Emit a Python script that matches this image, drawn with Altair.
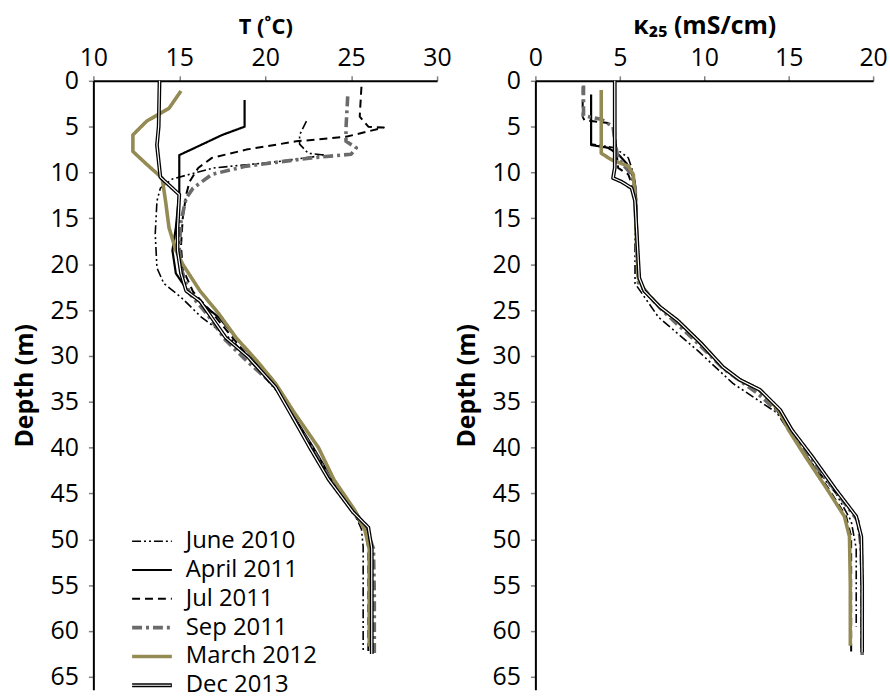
import altair as alt
import pandas as pd

SERIES = ["June 2010", "April 2011", "Jul 2011", "Sep 2011", "March 2012", "Dec 2013"]
COLORS = ["black", "black", "black", "#6b6b6b", "#948a54", "black"]
DASHES = [[9, 3, 2, 3, 2, 3], [1, 0], [8, 5], [10, 4, 3, 4], [1, 0], [1, 0]]
WIDTHS = [1.6, 2.2, 2.0, 3.6, 3.6, 3.8]

DEPTH_TICKS = list(range(0, 70, 5))
T_TICKS = [10, 15, 20, 25, 30]
K_TICKS = [0, 5, 10, 15, 20]

# ---------------- Temperature (left panel) ----------------
t_depth = {
    "June 2010": [4.4, 5.9, 6.9, 7.9, 8.1, 8.8, 9.5, 10.1, 10.7, 11.7, 13.1, 16.7, 20.4, 22.1, 23.6, 25.8, 27.2, 28.3, 30.5, 34.1, 36.2, 39.9, 43.5, 46.8, 48.9, 50.8, 56.0, 62.2],
    "April 2011": [2.1, 5.0, 5.9, 7.4, 8.1, 12.2, 16.0, 18.5, 21.0, 23.2, 25.8, 28.0, 30.5, 34.0, 37.0, 40.0, 43.5, 46.5, 48.5, 50.5, 56.0, 62.5],
    "Jul 2011": [0.65, 3.9, 5.0, 5.1, 6.1, 6.6, 7.5, 8.4, 9.5, 11.0, 12.4, 15.0, 18.0, 20.5, 23.0, 25.5, 28.0, 30.5, 34.0, 37.0, 40.0, 43.5, 47.0, 49.0, 51.0, 56.0, 62.5],
    "Sep 2011": [1.7, 5.2, 6.6, 7.3, 8.0, 8.4, 9.3, 10.2, 11.7, 12.8, 15.3, 18.2, 20.4, 23.2, 25.4, 28.3, 30.5, 33.7, 37.0, 40.0, 43.5, 47.0, 49.0, 51.0, 56.0, 62.8],
    "March 2012": [1.1, 3.0, 4.4, 5.9, 7.7, 9.1, 10.6, 13.1, 16.0, 18.5, 20.0, 22.9, 25.4, 28.0, 30.5, 33.0, 36.2, 40.0, 43.5, 46.8, 49.0, 51.0, 56.0, 61.7],
    "Dec 2013": [0.0, 5.0, 7.0, 10.5, 12.4, 16.0, 18.5, 21.0, 22.9, 24.0, 28.0, 30.1, 33.4, 37.0, 40.0, 43.5, 47.0, 48.7, 51.0, 56.0, 62.5],
}
t_value = {
    "June 2010": [22.4, 22.0, 22.0, 22.5, 23.5, 20.8, 17.0, 15.8, 14.6, 13.9, 13.7, 13.6, 13.7, 14.1, 15.1, 16.3, 17.3, 18.1, 19.1, 20.8, 21.5, 22.7, 23.8, 25.1, 25.6, 25.7, 25.7, 25.7],
    "April 2011": [18.8, 18.8, 17.5, 15.8, 15.0, 15.0, 14.8, 14.6, 14.8, 15.6, 17.3, 18.3, 19.4, 20.9, 21.8, 22.8, 23.9, 25.1, 25.8, 26.1, 26.2, 26.2],
    "Jul 2011": [25.6, 25.5, 26.0, 26.9, 24.7, 21.8, 18.9, 16.9, 16.1, 15.6, 15.4, 15.2, 15.1, 15.2, 15.8, 17.0, 18.1, 19.2, 20.8, 21.7, 22.7, 23.8, 25.1, 25.8, 26.0, 26.0, 26.0],
    "Sep 2011": [24.8, 24.7, 24.7, 25.3, 25.0, 22.7, 18.9, 16.9, 15.8, 15.4, 15.1, 15.0, 15.1, 15.6, 16.6, 17.7, 18.9, 20.8, 21.7, 22.7, 23.8, 25.1, 25.9, 26.3, 26.35, 26.35],
    "March 2012": [15.1, 14.4, 13.1, 12.3, 12.3, 13.1, 14.0, 14.2, 14.4, 14.8, 15.2, 16.2, 17.3, 18.3, 19.5, 20.6, 21.7, 23.1, 24.0, 25.2, 25.8, 26.05, 26.05, 26.05],
    "Dec 2013": [13.85, 13.8, 13.7, 13.9, 15.0, 14.9, 14.9, 15.1, 15.4, 16.2, 17.7, 19.0, 20.6, 21.7, 22.6, 23.7, 25.1, 26.0, 26.2, 26.2, 26.2],
}

# ---------------- Conductivity (right panel) ----------------
k_depth = {
    "June 2010": [1.7, 6.9, 7.3, 8.4, 9.5, 11.0, 13.1, 18.2, 22.1, 25.8, 29.4, 33.0, 36.2, 39.0, 42.0, 45.0, 48.0, 51.0, 55.0, 59.5],
    "April 2011": [1.5, 7.0, 7.3, 8.0, 9.0, 10.5, 12.0, 18.2, 21.5, 22.9, 24.7, 26.1, 28.6, 31.2, 32.6, 33.7, 35.9, 38.1, 41.0, 44.6, 47.5, 49.7, 55.0, 62.3],
    "Jul 2011": [0.65, 3.9, 4.3, 4.6, 5.2, 7.7, 9.5, 10.2, 11.7, 13.1, 18.2, 21.5, 22.9, 24.7, 26.1, 28.6, 31.2, 32.6, 33.7, 35.9, 38.1, 41.0, 44.6, 47.5, 49.7, 55.0, 62.5],
    "Sep 2011": [0.5, 3.8, 4.2, 5.0, 6.5, 8.5, 10.0, 11.5, 13.1, 18.2, 22.0, 25.0, 28.6, 31.5, 34.0, 36.5, 39.0, 42.0, 45.0, 48.0, 51.0, 56.0, 63.0],
    "March 2012": [1.0, 7.9, 8.6, 9.3, 10.2, 13.1, 18.2, 21.5, 22.9, 24.7, 26.1, 28.6, 31.2, 32.6, 33.7, 35.9, 38.1, 41.0, 44.6, 47.5, 49.7, 55.0, 61.6],
    "Dec 2013": [0.0, 9.5, 10.6, 11.0, 11.7, 13.1, 18.2, 21.5, 22.9, 24.7, 26.1, 28.6, 31.2, 32.6, 33.7, 35.9, 38.1, 41.0, 44.6, 47.5, 49.7, 55.0, 62.3],
}
k_value = {
    "June 2010": [3.3, 3.3, 4.7, 5.5, 5.7, 5.9, 5.9, 5.9, 5.9, 7.3, 9.6, 11.7, 14.3, 15.3, 16.5, 17.8, 18.7, 19.0, 19.0, 19.0],
    "April 2011": [3.3, 3.3, 4.3, 4.9, 5.4, 5.8, 5.95, 6.05, 6.15, 6.45, 7.4, 8.4, 9.8, 11.1, 12.1, 13.3, 14.5, 15.2, 16.4, 17.8, 19.0, 19.3, 19.35, 19.35],
    "Jul 2011": [2.8, 2.8, 2.9, 4.3, 4.7, 4.8, 4.9, 5.5, 5.8, 5.9, 6.0, 6.1, 6.4, 7.3, 8.3, 9.7, 11.0, 12.0, 13.2, 14.3, 15.0, 16.1, 17.4, 18.4, 18.7, 18.7, 18.7],
    "Sep 2011": [2.85, 2.85, 3.9, 4.6, 4.7, 4.9, 5.6, 5.9, 5.95, 6.0, 6.1, 7.5, 9.6, 11.2, 13.1, 14.6, 15.5, 16.6, 17.9, 19.1, 19.3, 19.35, 19.35],
    "March 2012": [3.9, 3.9, 4.5, 5.5, 5.8, 5.9, 6.0, 6.1, 6.45, 7.4, 8.4, 9.8, 11.1, 12.1, 13.3, 14.4, 15.0, 16.0, 17.3, 18.3, 18.6, 18.65, 18.65],
    "Dec 2013": [4.7, 4.7, 4.6, 5.1, 5.7, 5.9, 6.05, 6.15, 6.45, 7.4, 8.4, 9.8, 11.1, 12.1, 13.3, 14.5, 15.2, 16.4, 17.8, 19.0, 19.3, 19.35, 19.35],
}


def frame(depths, values):
    rows = []
    for s in SERIES:
        for i, (d, v) in enumerate(zip(depths[s], values[s])):
            rows.append({"series": s, "depth": d, "value": v, "i": i})
    return pd.DataFrame(rows)


FONT = "Open Sans"
H = 613
Y_MAX = 66.4
LEG_X = 37
LEG_Y = 449
ROW = 29
SYM = 1600
LEG_FONT = 24


def panel(df, xdomain, xticks, xtitle, xtitle_size, width, show_legend):
    x = alt.X(
        "value:Q",
        scale=alt.Scale(domain=xdomain, nice=False),
        axis=alt.Axis(orient="top", values=xticks, title=xtitle, labelFlush=False,
                      labelPadding=5, titlePadding=8, format="d", titleFontSize=xtitle_size),
    )
    y = alt.Y(
        "depth:Q",
        scale=alt.Scale(domain=[0, Y_MAX], reverse=True, nice=False),
        axis=alt.Axis(values=DEPTH_TICKS, title="Depth (m)", labelPadding=10,
                      titlePadding=13, format="d", titleFontSize=25),
    )
    if show_legend:
        leg = alt.Legend(orient="none", legendX=LEG_X, legendY=LEG_Y, title=None,
                         symbolType="stroke", symbolSize=SYM, labelFont=FONT,
                         labelFontSize=LEG_FONT, labelColor="black", labelOffset=12,
                         clipHeight=ROW, rowPadding=0, padding=0)
    else:
        leg = None
    base = alt.Chart(df).mark_line(strokeJoin="round").encode(
        x=x,
        y=y,
        order="i:Q",
        color=alt.Color("series:N", scale=alt.Scale(domain=SERIES, range=COLORS), legend=leg),
        strokeDash=alt.StrokeDash("series:N", scale=alt.Scale(domain=SERIES, range=DASHES), legend=leg),
        strokeWidth=alt.StrokeWidth("series:N", scale=alt.Scale(type="ordinal", domain=SERIES, range=WIDTHS), legend=leg),
    )
    if show_legend:
        leg2 = alt.Legend(orient="none", legendX=LEG_X, legendY=LEG_Y + 5 * ROW, title=None,
                          symbolType="stroke", symbolSize=SYM, labelExpr="''",
                          symbolStrokeWidth=1.2, padding=0, labelFontSize=LEG_FONT, labelOffset=12,
                          clipHeight=ROW, rowPadding=0)
    else:
        leg2 = None
    overlay = alt.Chart(df[df["series"] == "Dec 2013"]).mark_line(strokeWidth=1.2, strokeJoin="round").encode(
        x=x,
        y=y,
        order="i:Q",
        stroke=alt.Stroke("series:N", scale=alt.Scale(domain=["Dec 2013"], range=["white"]), legend=leg2),
    )
    return alt.layer(base, overlay).properties(width=width, height=H)


left = panel(frame(t_depth, t_value), [10, 30], T_TICKS, "T (˚C)", 22, 346, True)
right = panel(frame(k_depth, k_value), [0, 20], K_TICKS, "κ₂₅  (mS/cm)", 25, 340, False)

chart = (
    alt.hconcat(left, right, spacing=2)
    .resolve_scale(color="independent", strokeDash="independent", strokeWidth="independent", stroke="independent")
    .resolve_legend(color="independent", strokeDash="independent", strokeWidth="independent", stroke="independent")
    .properties(padding={"left": 12, "top": 11, "right": 2, "bottom": 2}, background="white")
    .configure_view(stroke=None)
    .configure_axis(
        grid=False,
        domainColor="black",
        domainWidth=2,
        tickColor="#808080",
        tickWidth=1.5,
        tickSize=5,
        labelFont=FONT,
        labelFontSize=25,
        labelColor="black",
        titleFont=FONT,
        titleFontWeight="bold",
        titleColor="black",
    )
)

chart.save("out.html", embed_options={"renderer": "svg", "actions": False})
